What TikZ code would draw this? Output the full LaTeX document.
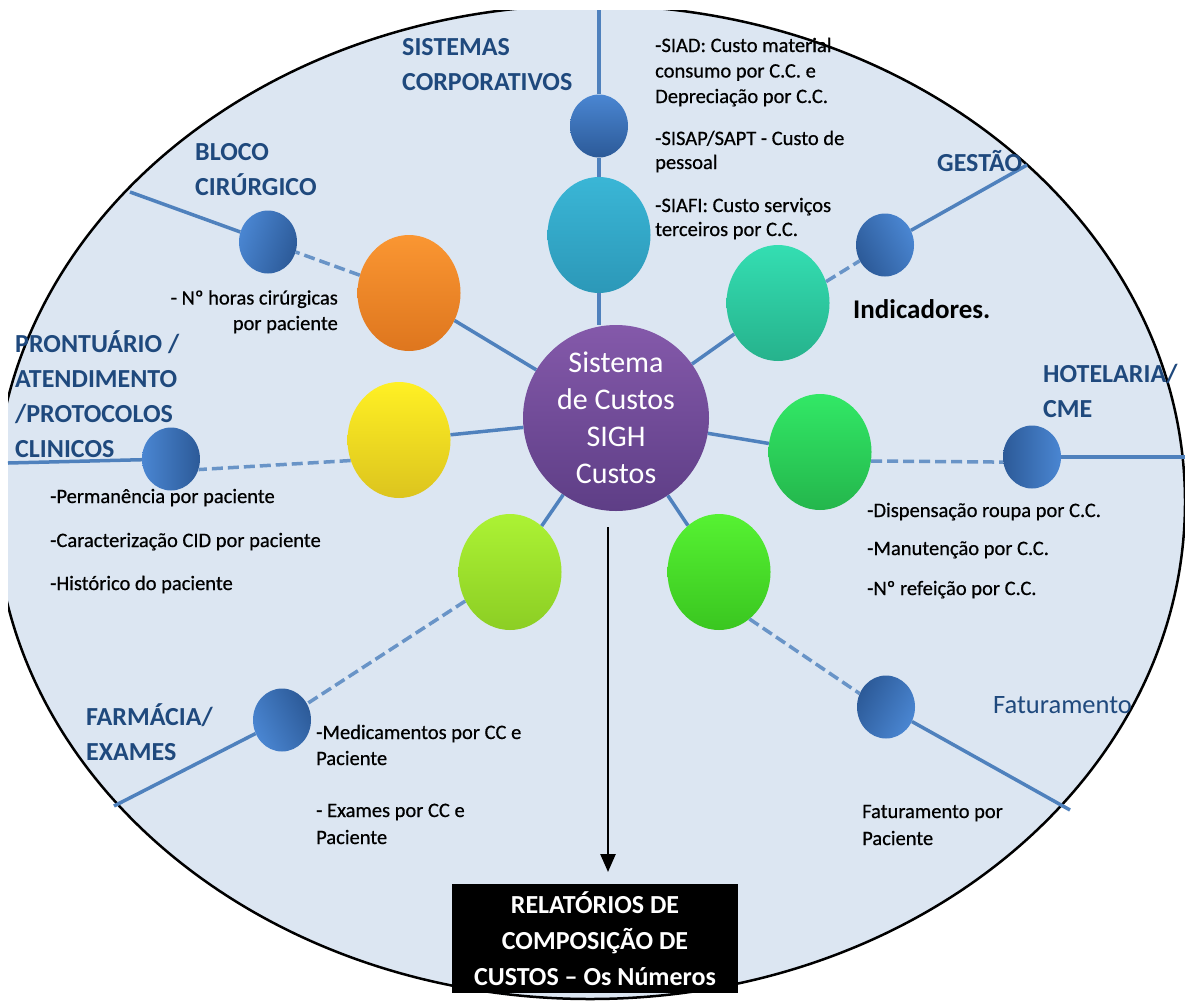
\documentclass[tikz,border=0pt]{standalone}
\usepackage{fontspec}
\setmainfont{Carlito}
\newfontfamily\notefont[FakeBold=0.6]{Carlito}
\usetikzlibrary{shapes.geometric,arrows.meta}
\definecolor{bgfill}{HTML}{DCE6F2}
\definecolor{spokecol}{HTML}{4F81BD}
\definecolor{headcol}{HTML}{1F497D}
\definecolor{ballhi}{HTML}{4A86D2}
\definecolor{balllo}{HTML}{2C5A98}
\definecolor{purphi}{HTML}{8459AA}
\definecolor{purplo}{HTML}{5E3E86}
\tikzset{
  bigball/.style={ellipse, minimum width=103pt, minimum height=116pt, inner sep=0pt},
  smallball/.style={ellipse, minimum width=58pt, minimum height=63pt, inner sep=0pt, top color=ballhi, bottom color=balllo},
  spoke/.style={draw=spokecol, line width=3.5pt},
  dspoke/.style={draw=spokecol!85!white, line width=3.5pt, dash pattern=on 11pt off 5pt},
  headlbl/.style={font=\fontsize{26}{35}\selectfont\bfseries, text=headcol, inner sep=0pt, align=left, anchor=base west},
  note/.style={font=\notefont\fontsize{20.5}{25.5}\selectfont, inner sep=0pt, align=left, anchor=base west},
}
\begin{document}
\begin{tikzpicture}[x=1pt,y=-1pt]
\useasboundingbox (0,0) rectangle (1185,1001);
\fill[white] (0,0) rectangle (1185,1001);
\begin{scope}
  \clip (8,10) rectangle (1185,1001);
  \draw[fill=bgfill, line width=2.5pt] (590,502) ellipse [x radius=595, y radius=497];
\end{scope}

% centre
\node[circle, minimum size=186pt, inner sep=0pt, top color=purphi, bottom color=purplo,
      text=white, font=\fontsize{30}{37}\selectfont, align=center] (c) at (616,418) {Sistema\\de Custos\\SIGH\\Custos};

% big coloured balls
\node[bigball, top color={rgb,255:red,58;green,182;blue,214}, bottom color={rgb,255:red,44;green,152;blue,184}] (teal) at (599,235) {};
\node[bigball, top color={rgb,255:red,250;green,150;blue,50}, bottom color={rgb,255:red,222;green,118;blue,30}] (orange) at (409,293) {};
\node[bigball, top color={rgb,255:red,52;green,222;blue,178}, bottom color={rgb,255:red,38;green,178;blue,140}] (gest) at (778,303) {};
\node[bigball, top color={rgb,255:red,255;green,240;blue,36}, bottom color={rgb,255:red,220;green,196;blue,30}] (yellow) at (399,440) {};
\node[bigball, top color={rgb,255:red,50;green,232;blue,102}, bottom color={rgb,255:red,36;green,182;blue,76}] (hotg) at (820,452) {};
\node[bigball, top color={rgb,255:red,172;green,242;blue,52}, bottom color={rgb,255:red,140;green,206;blue,36}] (lime) at (510,572) {};
\node[bigball, top color={rgb,255:red,86;green,242;blue,50}, bottom color={rgb,255:red,58;green,198;blue,32}] (fatg) at (719,572) {};

% small blue balls
\node[smallball, shading angle=0] (ts) at (599,126) {};
\node[smallball, shading angle=70] (bs) at (268,242) {};
\node[smallball, shading angle=-61] (gs) at (885,245) {};
\node[smallball, shading angle=90] (ps) at (171,459) {};
\node[smallball, shading angle=-90] (hs) at (1032,457) {};
\node[smallball, shading angle=117] (fs) at (282,720) {};
\node[smallball, shading angle=-119] (fts) at (886,707) {};

% outer ends
\coordinate (e1) at (599,10);
\coordinate (e2) at (130,192);
\coordinate (e3) at (1027,165);
\coordinate (e4) at (8,463);
\coordinate (e5) at (1185,457);
\coordinate (e6) at (114,806);
\coordinate (e7) at (1070,810);

% spokes centre -> big balls
\draw[spoke] (teal.south) -- (teal.south |- c.north);
\draw[spoke] (c) -- (orange);
\draw[spoke] (c) -- (gest);
\draw[spoke] (c) -- (yellow);
\draw[spoke] (c) -- (hotg);
\draw[spoke] (c) -- (lime);
\draw[spoke] (c) -- (fatg);

% big balls -> small balls
\draw[spoke] (teal) -- (ts);
\draw[dspoke] (orange) -- (bs);
\draw[dspoke] (gest.24) -- (gs.212);
\draw[dspoke] (yellow.203) -- (ps.-21);
\draw[dspoke] (hotg.-10) -- (hs.190);
\draw[dspoke] (lime) -- (fs);
\draw[dspoke] (fatg.-57) -- (fts.153);

% small balls -> rim
\draw[spoke] (ts) -- (e1);
\draw[spoke] (bs) -- (e2);
\draw[spoke] (gs) -- (e3);
\draw[spoke] (ps) -- (e4);
\draw[spoke] (hs) -- (e5);
\draw[spoke] (fs) -- (e6);
\draw[spoke] (fts) -- (e7);

% headings (anchor = baseline of last line)
\node[headlbl] (hsis) at (402,90) {SISTEMAS\\CORPORATIVOS};
\node[headlbl] (hblo) at (195,195) {BLOCO\\CIRÚRGICO};
\node[headlbl] (hges) at (937,171) {GESTÃO};
\node[headlbl] (hpro) at (15,457) {PRONTUÁRIO /\\ATENDIMENTO\\/PROTOCOLOS\\CLINICOS};
\node[headlbl] (hhot) at (1043,417) {HOTELARIA/\\CME};
\node[headlbl] (hfar) at (86,760) {FARMÁCIA/\\EXAMES};
\node[headlbl, font=\fontsize{26.5}{35}\selectfont] (hfat) at (993,713) {Faturamento};

% notes (anchor = baseline of last line)
\node[note] (n1) at (655,103) {-SIAD: Custo material\\consumo por C.C. e\\Depreciação por C.C.};
\node[note, font=\notefont\fontsize{20.5}{24}\selectfont] (n2) at (655,169) {-SISAP/SAPT - Custo de\\pessoal};
\node[note, font=\notefont\fontsize{20.5}{24}\selectfont] (n3) at (655,236) {-SIAFI: Custo serviços\\terceiros por C.C.};
\node[note, anchor=base east, align=right] (n4) at (338,330) {- Nº horas cirúrgicas\\por paciente};
\node[note, font=\fontsize{27}{32}\selectfont\bfseries] (n5) at (853,318) {Indicadores.};
\node[note] (n6) at (50,503) {-Permanência por paciente};
\node[note] (n7) at (50,547) {-Caracterização CID por paciente};
\node[note] (n8) at (50,590) {-Histórico do paciente};
\node[note] (n9) at (867,517) {-Dispensação roupa por C.C.};
\node[note] (n10) at (867,555) {-Manutenção por C.C.};
\node[note] (n11) at (867,595) {-Nº refeição por C.C.};
\node[note, font=\notefont\fontsize{20.5}{26}\selectfont] (n12) at (316,765) {-Medicamentos por CC e\\Paciente};
\node[note, font=\notefont\fontsize{20.5}{27}\selectfont] (n13) at (316,844) {- Exames por CC e\\Paciente};
\node[note, font=\notefont\fontsize{20.5}{27}\selectfont] (n14) at (862,845) {Faturamento por\\Paciente};

% output box and arrow
\node[fill=black, minimum width=286pt, minimum height=109pt, inner sep=0pt, text=white,
      font=\fontsize{26}{36}\selectfont\bfseries, align=center] (box) at (595,938.5)
      {RELATÓRIOS DE\\COMPOSIÇÃO DE\\CUSTOS – Os Números};
\coordinate (a1) at (608,527);
\coordinate (a2) at (608,872);
\draw[line width=2.5pt, -{Triangle[width=15pt,length=18pt]}] (a1) -- (a2);
\end{tikzpicture}
\end{document}
